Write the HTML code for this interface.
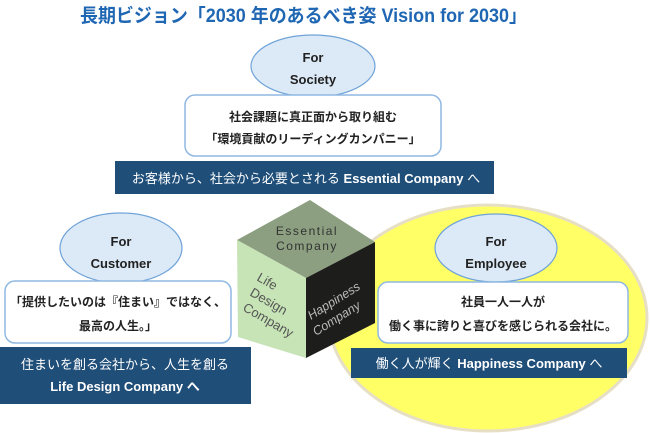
<!DOCTYPE html>
<html><head><meta charset="utf-8"><style>
html,body{margin:0;padding:0;background:#fff;}
svg{display:block;}
text{font-family:"Liberation Sans","Noto Sans CJK JP",sans-serif;}
</style></head><body>
<svg width="650" height="433" viewBox="0 0 650 433" xmlns="http://www.w3.org/2000/svg">
<text x="80" y="22" font-size="19" font-weight="bold" fill="#1f67b3" textLength="447" lengthAdjust="spacingAndGlyphs">長期ビジョン「2030 年のあるべき姿  Vision for 2030」</text>

<ellipse cx="488" cy="318" rx="159" ry="113" fill="#ffff66" stroke="#e6dfc6" stroke-width="3"/>

<ellipse cx="313" cy="66" rx="62" ry="31" fill="#dce9f6" stroke="#6fa3d8" stroke-width="1.2"/>
<text x="313" y="62" font-size="13" font-weight="bold" text-anchor="middle" fill="#222">For</text>
<text x="313" y="84" font-size="13" font-weight="bold" text-anchor="middle" fill="#222">Society</text>
<rect x="185" y="95" width="256" height="61" rx="10" fill="#fff" stroke="#8fb8e2" stroke-width="1.5"/>
<text x="313" y="121" font-size="12" font-weight="bold" text-anchor="middle" fill="#222">社会課題に真正面から取り組む</text>
<text x="313" y="143" font-size="12" font-weight="bold" text-anchor="middle" fill="#222">「環境貢献のリーディングカンパニー」</text>
<rect x="115" y="161" width="379" height="33" fill="#1f4e79"/>
<text x="306" y="183" font-size="13" text-anchor="middle" fill="#fff">お客様から、社会から必要とされる <tspan font-weight="bold">Essential Company</tspan> へ</text>

<ellipse cx="121" cy="248" rx="61" ry="35" fill="#dce9f6" stroke="#6fa3d8" stroke-width="1.2"/>
<text x="121" y="246" font-size="13" font-weight="bold" text-anchor="middle" fill="#222">For</text>
<text x="121" y="268" font-size="13" font-weight="bold" text-anchor="middle" fill="#222">Customer</text>
<rect x="5" y="281" width="226" height="62" rx="10" fill="#fff" stroke="#8fb8e2" stroke-width="1.5"/>
<text x="118" y="306" font-size="12" font-weight="bold" text-anchor="middle" fill="#222">「提供したいのは『住まい』ではなく、</text>
<text x="118" y="330" font-size="12" font-weight="bold" text-anchor="middle" fill="#222">最高の人生。」</text>
<rect x="0" y="347" width="251" height="57" fill="#1f4e79"/>
<text x="125" y="369" font-size="13" text-anchor="middle" fill="#fff">住まいを創る会社から、人生を創る</text>
<text x="125" y="391" font-size="13" font-weight="bold" text-anchor="middle" fill="#fff">Life Design Company へ</text>

<ellipse cx="496" cy="248" rx="61" ry="34" fill="#dce9f6" stroke="#6fa3d8" stroke-width="1.2"/>
<text x="496" y="246" font-size="13" font-weight="bold" text-anchor="middle" fill="#222">For</text>
<text x="496" y="268" font-size="13" font-weight="bold" text-anchor="middle" fill="#222">Employee</text>
<rect x="378" y="282" width="250" height="61" rx="10" fill="#fff" stroke="#8fb8e2" stroke-width="1.5"/>
<text x="503" y="306" font-size="12" font-weight="bold" text-anchor="middle" fill="#222">社員一人一人が</text>
<text x="503" y="330" font-size="12" font-weight="bold" text-anchor="middle" fill="#222">働く事に誇りと喜びを感じられる会社に。</text>
<rect x="351" y="348" width="276" height="30" fill="#1f4e79"/>
<text x="489" y="368" font-size="13" text-anchor="middle" fill="#fff">働く人が輝く <tspan font-weight="bold">Happiness Company</tspan> へ</text>

<polygon points="310,200 375,242 306,278 237,240" fill="#8c9f80"/>
<polygon points="237,240 306,278 306,358 238,337" fill="#c7e4b6"/>
<polygon points="306,278 375,242 375,323 306,358" fill="#1d1d1b"/>
<text x="307" y="235" font-size="12" text-anchor="middle" fill="#333" letter-spacing="1.5">Essential</text>
<text x="307" y="250" font-size="12" text-anchor="middle" fill="#333" letter-spacing="1.5">Company</text>
<g fill="#555" font-size="13">
<text transform="translate(256,280) rotate(30)">Life</text>
<text transform="translate(249,295) rotate(30)">Design</text>
<text transform="translate(242,310) rotate(30)">Company</text>
</g>
<g fill="#bbb" font-size="12.5" font-style="italic">
<text transform="translate(311,320) rotate(-32)">Happiness</text>
<text transform="translate(316,336) rotate(-32)">Company</text>
</g>
</svg>
</body></html>
